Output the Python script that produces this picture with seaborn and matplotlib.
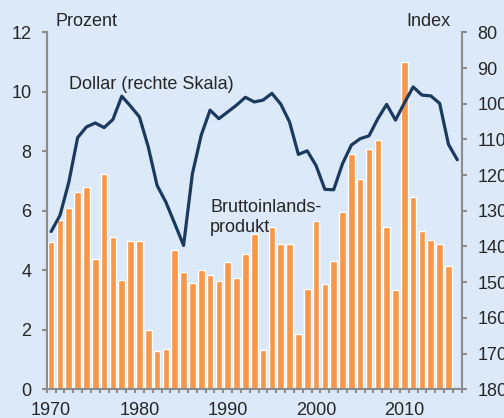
import matplotlib
matplotlib.use("Agg")
import matplotlib.pyplot as plt
import seaborn as sns
import pandas as pd
import numpy as np

# Bruttoinlandsprodukt, Prozent (linke Skala)
years = list(range(1970, 2016))
gdp = [4.94, 5.69, 6.08, 6.64, 6.80, 4.38, 7.23, 5.11, 3.67, 4.97,
       4.97, 1.99, 1.30, 1.34, 4.68, 3.94, 3.58, 4.00, 3.83, 3.65,
       4.28, 3.74, 4.54, 5.22, 1.32, 5.45, 4.87, 4.90, 1.86, 3.37,
       5.65, 3.55, 4.32, 5.95, 7.90, 7.07, 8.08, 8.38, 5.46, 3.34,
       10.99, 6.45, 5.32, 5.02, 4.87, 4.13]

# Dollar-Index (rechte Skala, invertiert)
dollar_years = list(range(1970, 2017))
dollar = [135.8, 131.3, 122.0, 109.5, 106.5, 105.4, 106.7, 104.4, 97.9, 100.7,
          103.7, 112.1, 122.9, 127.6, 133.6, 139.7, 119.6, 108.8, 101.8, 104.2,
          102.3, 100.4, 98.2, 99.5, 99.0, 97.1, 100.1, 105.1, 114.2, 113.2,
          117.3, 124.0, 124.1, 116.8, 111.6, 109.8, 109.0, 104.2, 100.2, 104.6,
          99.8, 95.3, 97.6, 97.8, 99.9, 111.4, 115.7]

left_ticks = [0, 2, 4, 6, 8, 10, 12]
right_ticks = list(range(80, 181, 10))
decades = [1970, 1980, 1990, 2000, 2010]

bg = '#dce9f8'
orange = '#f7974a'
navy = '#1b3a5e'
spine_col = '#8c8c8c'

sns.set_style("white")
plt.rcParams['font.family'] = ['Liberation Sans', 'DejaVu Sans']

fig = plt.figure(figsize=(5.04, 4.18), dpi=100, facecolor=bg)
ax = fig.add_axes([0.0927, 0.0687, 0.8234, 0.8540])
ax.set_facecolor(bg)

df_bar = pd.DataFrame({'year': years, 'gdp': gdp})
sns.barplot(data=df_bar, x='year', y='gdp', native_scale=True, width=0.75,
            color=orange, saturation=1, errorbar=None, ax=ax)
ax.set_xlim(1969.5, 2016.5)
ax.set_ylim(0, 12)
ax.set_xlabel('')
ax.set_ylabel('')

ax2 = ax.twinx()
sns.lineplot(x=dollar_years, y=dollar, color=navy, lw=2.3, ax=ax2)
ax2.set_ylim(180, 80)
ax2.set_xlim(1969.5, 2016.5)

# spines
for a in (ax, ax2):
    for s in a.spines.values():
        s.set_visible(False)
ax.spines['left'].set_visible(True)
ax.spines['bottom'].set_visible(True)
ax2.spines['right'].set_visible(True)
for s in (ax.spines['left'], ax.spines['bottom'], ax2.spines['right']):
    s.set_color(spine_col)
    s.set_linewidth(1.5)

# ticks
ax.set_yticks(left_ticks)
ax.tick_params(axis='y', direction='out', length=3.6, width=1.5, color=spine_col,
               pad=7.5, labelsize=13, left=True)
ax2.set_yticks(right_ticks)
ax2.tick_params(axis='y', direction='out', length=3.6, width=1.5, color=spine_col,
                pad=7.5, labelsize=13, right=True)
ax.set_xticks(decades)
ax.set_xticklabels([str(d) for d in decades])
ax.set_xticks(np.arange(1969.5, 2017, 1), minor=True)
ax.tick_params(axis='x', which='major', length=0, pad=9, labelsize=13)
ax.tick_params(axis='x', which='minor', direction='out', length=3, width=1.5,
               color=spine_col, bottom=True)
ax.grid(False)
ax2.grid(False)

# texts
ax.text(0.02, 1.018, 'Prozent', transform=ax.transAxes, fontsize=13,
        ha='left', va='baseline')
ax.text(0.9735, 1.018, 'Index', transform=ax.transAxes, fontsize=13,
        ha='right', va='baseline')
ax.text(1972.0, 10.08, 'Dollar (rechte Skala)', fontsize=13, ha='left', va='baseline')
ax.text(1988.0, 5.97, 'Bruttoinlands-', fontsize=13, ha='left', va='baseline')
ax.text(1988.0, 5.30, 'produkt', fontsize=13, ha='left', va='baseline')

fig.savefig('out.png', dpi=100, facecolor=bg)
